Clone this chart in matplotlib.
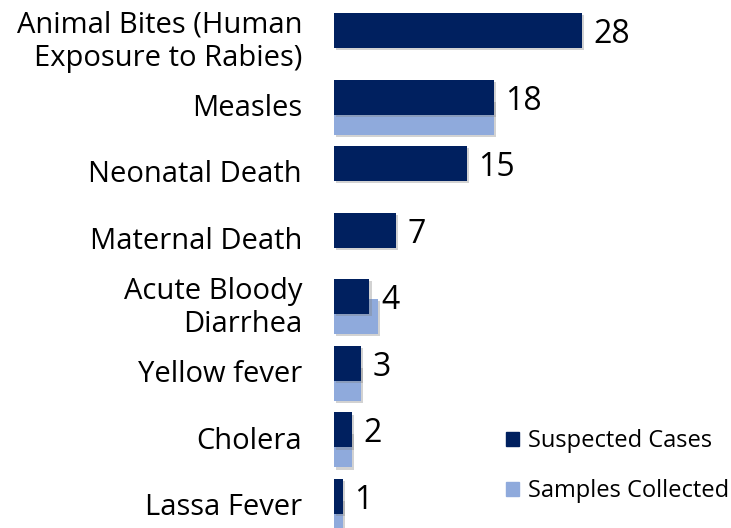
import matplotlib
matplotlib.use("Agg")
import matplotlib.pyplot as plt
import matplotlib.patches as mpatches
import matplotlib.patheffects as pe

categories = ["Animal Bites (Human\nExposure to Rabies)", "Measles", "Neonatal Death",
              "Maternal Death", "Acute Bloody\nDiarrhea", "Yellow fever", "Cholera",
              "Lassa Fever"]
suspected = [28, 18, 15, 7, 4, 3, 2, 1]
samples = [0, 18, 0, 0, 5, 3, 2, 1]

DARK = "#00205F"
LIGHT = "#8FAADC"
FONT = "Open Sans"

fig = plt.figure(figsize=(7.31, 5.28), dpi=100)
ax = fig.add_axes([334 / 731, 0, 1 - 334 / 731, 1])

shadow = [pe.SimplePatchShadow(offset=(1.5, -1.5), shadow_rgbFace="gray", alpha=0.35), pe.Normal()]

pos = list(range(len(categories)))
h = 0.526
off = 0.30
light_bars = ax.barh([p + off for p in pos], samples, height=h, color=LIGHT, zorder=1)
dark_bars = ax.barh(pos, suspected, height=h, color=DARK, zorder=2)
for b in list(light_bars) + list(dark_bars):
    if b.get_width() > 0:
        b.set_path_effects(shadow)

for p, v in zip(pos, suspected):
    ax.text(v + 1.3, p + 0.06, str(v), va="center", ha="left", fontsize=23, family=FONT,
            color="black", zorder=3)

for p, c in zip(pos, categories):
    ax.text(-3.6, p + off / 2 + 0.02, c, va="center", ha="right", fontsize=21, family=FONT,
            color="black", linespacing=1.17)

ax.set_xlim(0, 44.8)
ax.set_ylim(7.473, -0.458)
ax.axis("off")

handles = [mpatches.Patch(color=DARK, label="Suspected Cases"),
           mpatches.Patch(color=LIGHT, label="Samples Collected")]
fig.legend(handles=handles, loc="upper left", bbox_to_anchor=(506 / 731, 1 - 429 / 528),
           frameon=False, prop={"family": FONT, "size": 17}, labelspacing=1.1,
           handlelength=0.55, handleheight=0.55, handletextpad=0.4,
           borderpad=0, borderaxespad=0)

fig.savefig("out.png", dpi=100)
